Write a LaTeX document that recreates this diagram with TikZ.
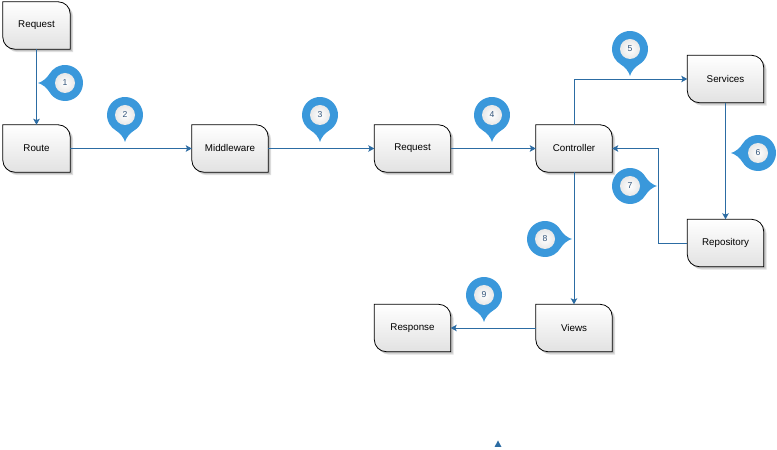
\documentclass[tikz,border=0pt]{standalone}
\usepackage{fontspec}
\setmainfont{Liberation Sans}
\usetikzlibrary{arrows.meta,backgrounds}

\definecolor{linkblue}{RGB}{44,108,163}
\definecolor{pinblue}{RGB}{58,152,219}
\definecolor{numblue}{RGB}{50,84,122}
\definecolor{cardbottom}{RGB}{226,226,226}

\tikzset{
  x=1pt, y=1pt,
  procbox/.style={minimum width=76pt, minimum height=47pt, inner sep=0pt,
    font=\fontsize{9.8}{11}\selectfont},
  narrowbox/.style={procbox, minimum width=67pt},
  % outline with the north-east and south-west corners rounded
  card shape/.style={insert path={
    (#1.north west) -- ([xshift=-12pt]#1.north east)
    arc[start angle=90, end angle=0, radius=12pt]
    -- (#1.south east) -- ([xshift=12pt]#1.south west)
    arc[start angle=270, end angle=180, radius=12pt] -- cycle}},
  cardfill/.style={top color=white, bottom color=cardbottom, draw=black, line width=0.8pt},
  cardshadow/.style={fill=black, opacity=0.13, transform canvas={shift={(#1,-#1)}}},
  conn/.style={draw=linkblue, line width=0.9pt,
    -{Stealth[length=6pt, width=6.5pt, inset=1.3pt]}},
  pinnum/.style={font=\fontsize{8.6}{9}\selectfont, text=numblue, inner sep=0pt},
  % numbered map-pin badge; second value is the rotation (0 = tip down)
  pics/badge/.style args={#1/#2}{code={
    \fill[pinblue, rotate=#2] (-60:18) arc[start angle=-60, end angle=240, radius=18]
      .. controls (-4.7,-18.1) and (-1,-23) .. (0,-27)
      .. controls (1,-23) and (4.7,-18.1) .. cycle;
    \shade[inner color=white, outer color=black!9] (0,0) circle (10);
    \node[pinnum] (-n) at (0,0) {#1};
  }}
}

\begin{document}
\begin{tikzpicture}
\useasboundingbox (0,0) rectangle (777,450);

% process boxes
\node[narrowbox] (req1)       at (36.5,424.5) {Request};
\node[narrowbox] (route)      at (36.5,301.5) {Route};
\node[procbox]   (middleware) at (230,301.5)  {Middleware};
\node[procbox]   (req2)       at (412.5,301.5) {Request};
\node[procbox]   (controller) at (574,301.5)  {Controller};
\node[procbox]   (services)   at (725.5,371)  {Services};
\node[procbox]   (repository) at (725.5,207)  {Repository};
\node[procbox]   (views)      at (574,122)    {Views};
\node[procbox]   (response)   at (412.5,122)  {Response};

\begin{scope}[on background layer]
  \foreach \n in {req1,route,middleware,req2,controller,services,repository,views,response} {
    \path[cardshadow=3pt, card shape=\n];
    \path[cardshadow=1.8pt, card shape=\n];
    \path[cardfill, card shape=\n];
  }
\end{scope}

% connectors
\coordinate (bend) at (658,301.5);
\draw[conn] (req1) -- (route);
\draw[conn] (route) -- (middleware);
\draw[conn] (middleware) -- (req2);
\draw[conn] (req2) -- (controller);
\draw[conn] (controller.north) |- (services.west);
\draw[conn] (services) -- (repository);
\draw[conn] (repository.west) -| (bend) -- (controller.east);
\draw[conn] (controller) -- (views);
\draw[conn] (views) -- (response);

% step badges
\pic (b1) at (65,367)  {badge=1/-90};
\pic (b2) at (125,335) {badge=2/0};
\pic (b3) at (320,335) {badge=3/0};
\pic (b4) at (492,335) {badge=4/0};
\pic (b5) at (630,401) {badge=5/0};
\pic (b6) at (758,297) {badge=6/-90};
\pic (b7) at (630,264) {badge=7/90};
\pic (b8) at (545,211) {badge=8/90};
\pic (b9) at (484,155) {badge=9/0};

% loose arrow head near the bottom edge
\fill[linkblue] (494.5,3) -- (501.5,3) -- (498,9.5) -- cycle;
\end{tikzpicture}
\end{document}
